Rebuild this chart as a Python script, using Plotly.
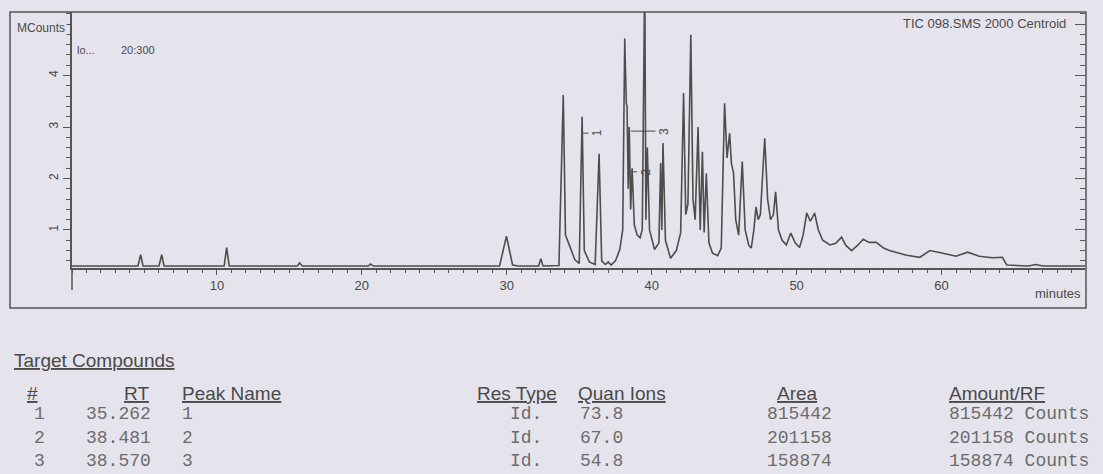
import plotly.graph_objects as go

# ---- chromatogram (TIC) ----
rt_min = [0.0, 4.55, 4.74, 4.9, 6.0, 6.19, 6.35, 10.5, 10.67, 10.85, 15.55, 15.7, 15.9,
          20.45, 20.6, 20.8, 29.5, 29.98, 30.4, 30.8, 32.2, 32.35, 32.5, 33.6, 33.9, 34.05,
          34.3, 34.7, 35.0, 35.2, 35.35, 35.7, 36.1, 36.37, 36.55, 36.8, 37.0, 37.2, 37.5,
          37.8, 38.0, 38.14, 38.25, 38.3, 38.38, 38.45, 38.55, 38.65, 38.8, 39.0, 39.2,
          39.35, 39.52, 39.6, 39.7, 39.85, 40.2, 40.5, 40.62, 40.7, 40.78, 40.95, 41.3,
          41.7, 42.0, 42.2, 42.35, 42.5, 42.7, 42.85, 43.0, 43.2, 43.35, 43.5, 43.62,
          43.77, 43.95, 44.2, 44.55, 44.8, 45.03, 45.2, 45.38, 45.5, 45.65, 45.8, 46.0,
          46.25, 46.45, 46.7, 46.87, 47.05, 47.2, 47.35, 47.5, 47.8, 48.0, 48.2, 48.4,
          48.55, 48.75, 49.0, 49.29, 49.6, 49.9, 50.2, 50.45, 50.7, 50.95, 51.24, 51.5,
          51.8, 52.3, 52.7, 53.1, 53.4, 53.8, 54.2, 54.6, 55.0, 55.5, 56.0, 56.4, 57.0,
          57.6, 58.5, 59.2, 60.1, 61.0, 61.8, 62.6, 63.5, 64.2, 64.5, 66.0, 66.5, 67.0,
          69.9]
mcounts = [0.30, 0.30, 0.52, 0.30, 0.30, 0.52, 0.30, 0.30, 0.66, 0.30, 0.30, 0.36, 0.30,
           0.30, 0.34, 0.30, 0.30, 0.88, 0.32, 0.30, 0.30, 0.44, 0.30, 0.31, 3.62, 0.90,
           0.72, 0.42, 0.35, 3.20, 0.60, 0.38, 0.33, 2.48, 0.40, 0.33, 0.38, 0.32, 0.40,
           0.62, 1.00, 4.72, 3.46, 3.40, 1.80, 3.00, 1.40, 2.20, 1.10, 0.90, 0.85,
           1.00, 6.00, 1.20, 2.60, 1.00, 0.62, 0.75, 2.30, 1.00, 2.69, 0.80, 0.45,
           0.60, 0.95, 3.66, 1.30, 1.50, 4.79, 1.60, 1.20, 3.00, 1.00, 2.52, 0.95,
           2.10, 0.75, 0.55, 0.50, 0.65, 3.46, 2.40, 2.88, 2.30, 2.10, 1.20, 0.90,
           2.33, 1.00, 0.70, 0.65, 1.00, 1.45, 1.20, 1.30, 2.78, 1.60, 1.20, 1.30,
           1.74, 1.00, 0.80, 0.71, 0.94, 0.75, 0.66, 0.90, 1.33, 1.17, 1.33, 1.00,
           0.80, 0.71, 0.74, 0.86, 0.70, 0.60, 0.70, 0.82, 0.76, 0.76, 0.65, 0.60, 0.55,
           0.51, 0.47, 0.60, 0.55, 0.49, 0.57, 0.49, 0.46, 0.47, 0.32, 0.30, 0.33, 0.30,
           0.30]

x_ticks = [10, 20, 30, 40, 50, 60]
y_ticks = [1, 2, 3, 4, 5]
y_ticktext = ["1", "2", "3", "4", ""]

# ---- Target compounds table ----
peak_no = ["1", "2", "3"]
peak_rt = [35.262, 38.481, 38.570]
peak_name = ["1", "2", "3"]
res_type = ["Id.", "Id.", "Id."]
quan_ions = ["73.8", "67.0", "54.8"]
area = [815442, 201158, 158874]
amount_unit = "Counts"
peak_label_y = [2.88, 2.13, 2.92]
peak_label_dx = [14, 16, 33]

BG = "#e5e4ec"
INK = "#4a4a4a"
GRAY = "#6c6c6c"
LINE = "#555555"

W, H = 1103, 474
ML, MR, MT, MB = 72, 18, 12, 206
PW = W - ML - MR
PH = H - MT - MB


def xp(px):
    return (px - ML) / PW


def yp(py):
    return (H - MB - py) / PH


fig = go.Figure()
fig.add_trace(go.Scatter(x=rt_min, y=mcounts, mode="lines",
                         line=dict(color="#4d4d4d", width=1.6),
                         hoverinfo="skip", showlegend=False))
fig.add_trace(go.Scatter(x=rt_min, y=mcounts, mode="lines", yaxis="y2",
                         line=dict(color="rgba(0,0,0,0)", width=0),
                         hoverinfo="skip", showlegend=False))

yr = [0.262, 5.233]
fig.update_layout(
    width=W, height=H, autosize=False,
    margin=dict(l=ML, r=MR, t=MT, b=MB, pad=0),
    paper_bgcolor=BG, plot_bgcolor=BG,
    font=dict(family="Liberation Sans, Arial, sans-serif", color=INK),
    xaxis=dict(range=[0, 69.9], tickvals=x_ticks, ticks="outside", ticklen=5,
               tickwidth=1, tickcolor=LINE, showline=True, linecolor=LINE, linewidth=1.5,
               showgrid=False, zeroline=False, tickfont=dict(size=13, color=INK),
               minor=dict(dtick=1, tick0=0, ticks="outside", ticklen=3, tickcolor=LINE,
                          showgrid=False)),
    yaxis=dict(range=yr, tickvals=y_ticks, ticktext=y_ticktext, ticks="outside",
               ticklen=7, tickwidth=1, tickcolor=LINE, showline=True, linecolor=LINE,
               linewidth=1.5, showgrid=False, zeroline=False, tickangle=-90,
               tickfont=dict(size=12, color=INK),
               minor=dict(dtick=0.2, tick0=0, ticks="outside", ticklen=4,
                          tickcolor=LINE, showgrid=False)),
    yaxis2=dict(range=yr, overlaying="y", side="right", tickvals=y_ticks,
                showticklabels=False, ticks="inside", ticklen=10, tickcolor=LINE,
                showline=False, showgrid=False, zeroline=False,
                minor=dict(dtick=0.2, tick0=0, ticks="inside", ticklen=5,
                           tickcolor=LINE, showgrid=False)),
)

shapes = [
    # outer frame
    dict(type="rect", xref="paper", yref="paper", x0=xp(10), x1=xp(1086),
         y0=yp(308), y1=yp(12), line=dict(color=LINE, width=1.5)),
    # y axis line continuing below the time axis
    dict(type="line", xref="paper", yref="paper", x0=0, x1=0, y0=0, y1=yp(290),
         line=dict(color=LINE, width=1.5)),
]
fig.update_layout(shapes=shapes)

ann = []
ann.append(dict(xref="paper", yref="paper", x=xp(41), y=yp(28), text="MCounts",
                showarrow=False, font=dict(size=12, color=INK), xanchor="center",
                yanchor="middle", bgcolor=BG))
ann.append(dict(xref="paper", yref="paper", x=xp(75), y=yp(50), text="lo...",
                showarrow=False, font=dict(size=11, color=INK), xanchor="left",
                yanchor="middle"))
ann.append(dict(xref="paper", yref="paper", x=xp(119), y=yp(50), text="20:300",
                showarrow=False, font=dict(size=11, color=INK), xanchor="left",
                yanchor="middle"))
ann.append(dict(xref="paper", yref="paper", x=xp(1068), y=yp(23),
                text="TIC 098.SMS 2000 Centroid", showarrow=False,
                font=dict(size=13, color=INK), xanchor="right", yanchor="middle"))
ann.append(dict(xref="paper", yref="paper", x=xp(1083), y=yp(293), text="minutes",
                showarrow=False, font=dict(size=13, color=INK), xanchor="right",
                yanchor="middle"))

# peak labels
for name, rtv, ly, dx in zip(peak_name, peak_rt, peak_label_y, peak_label_dx):
    ann.append(dict(xref="x", yref="y", x=rtv, y=ly, text=name, textangle=-90,
                    showarrow=True, arrowhead=0, arrowwidth=1, arrowcolor=INK,
                    ax=dx, ay=0, standoff=0, font=dict(size=12, color=INK)))

# table
HF = dict(size=19, color=INK, family="Liberation Sans, Arial, sans-serif")
MF = dict(size=18, color=GRAY, family="Liberation Mono, Courier New, monospace")
ann.append(dict(xref="paper", yref="paper", x=xp(12), y=yp(360),
                text="<u>Target Compounds</u>", showarrow=False, font=HF,
                xanchor="left", yanchor="middle"))
hy = 393
headers = [("#", 25, "left"), ("RT", 151, "right"), ("Peak Name", 180, "left"),
           ("Res Type", 475, "left"), ("Quan Ions", 576, "left"), ("Area", 775, "left"),
           ("Amount/RF", 947, "left")]
for txt, px, anc in headers:
    ann.append(dict(xref="paper", yref="paper", x=xp(px), y=yp(hy),
                    text="<u>" + txt + "</u>", showarrow=False, font=HF,
                    xanchor=anc, yanchor="middle"))

row_y = [414, 438, 461]
for i in range(len(peak_no)):
    cells = [(peak_no[i], 47, "right"), ("%.3f" % peak_rt[i], 153, "right"),
             (peak_name[i], 180, "left"), (res_type[i], 508, "left"),
             (quan_ions[i], 578, "left"), (str(area[i]), 765, "left"),
             ("%d %s" % (area[i], amount_unit), 947, "left")]
    for txt, px, anc in cells:
        ann.append(dict(xref="paper", yref="paper", x=xp(px), y=yp(row_y[i]),
                        text=txt, showarrow=False, font=MF, xanchor=anc,
                        yanchor="middle"))

fig.update_layout(annotations=ann)
fig.write_html("out.html")
